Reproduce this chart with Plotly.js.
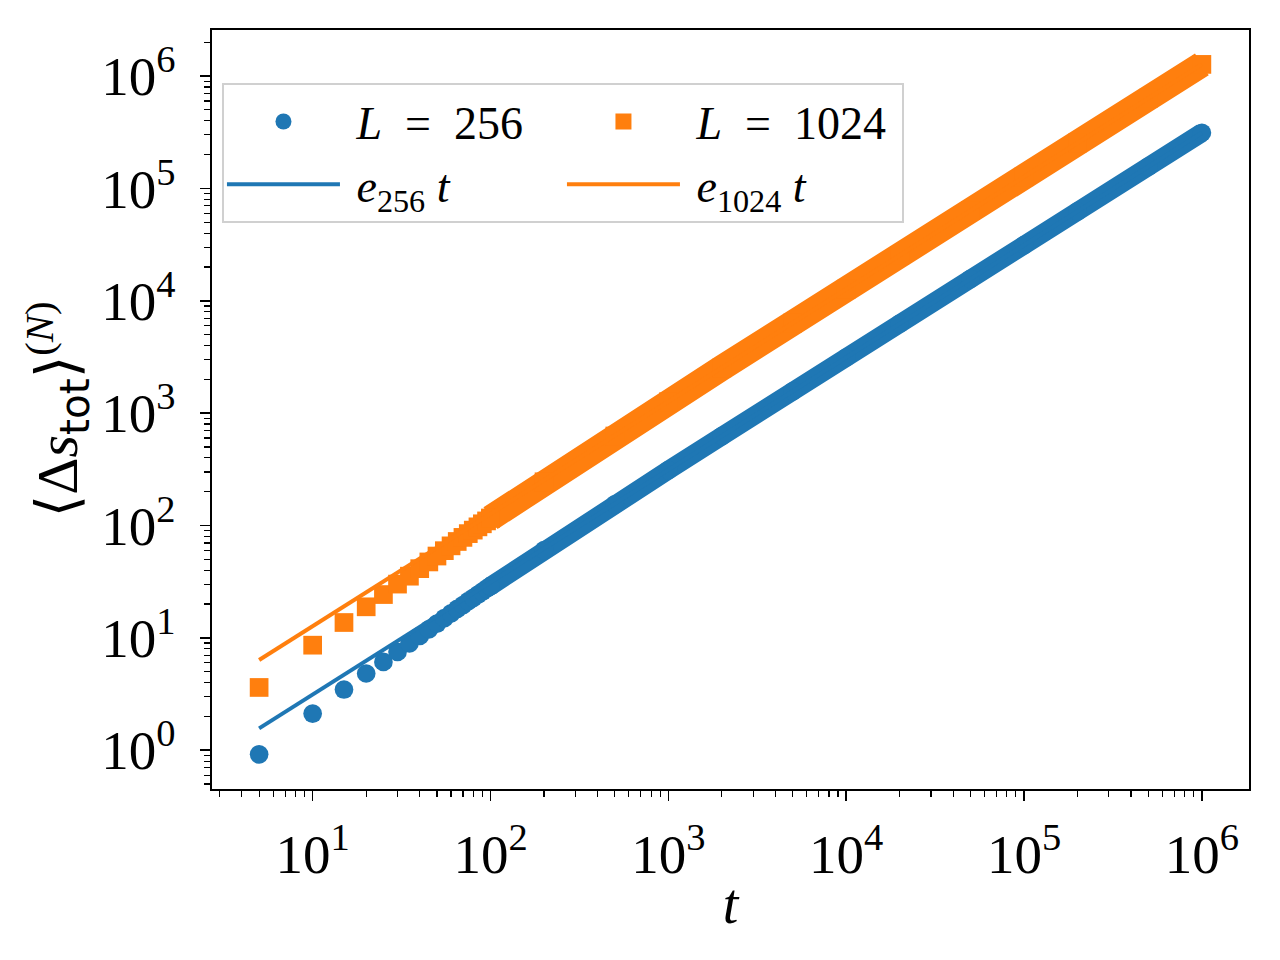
<!DOCTYPE html>
<html>
<head>
<meta charset="utf-8">
<script src="https://cdn.plot.ly/plotly-3.0.1.min.js"></script>
<style>
  body { margin: 0; background: white; }
  #graph { width: 1280px; height: 960px; }
</style>
</head>
<body>
<div id="graph"></div>
<script>
// early time steps, where single markers can still be told apart
let tEarly = [5, 10, 15, 20, 25, 30, 35, 40, 45, 50, 55, 60, 65, 70, 75, 80, 85, 90, 95, 100]
let s256Early = [0.92, 2.12, 3.47, 4.82, 6.11, 7.5, 8.91, 10.4, 11.9, 13.4, 15.0, 16.5, 18.1, 19.6, 21.2, 22.7, 24.3, 25.8, 27.4, 28.9]
let s1024Early = [3.62, 8.61, 13.7, 18.9, 24.3, 30.1, 35.4, 41.3, 47.4, 53.5, 59.7, 65.9, 72.1, 78.4, 84.7, 91.0, 97.3, 103.6, 109.9, 116.3]

// later time steps, markers merge into a solid band
let tLate = [100, 200, 500, 1000, 2000, 5000, 10000, 20000, 50000, 100000, 200000, 500000, 1000000]
let s256Late = [28.9, 60.5, 154, 311, 624, 1562, 3128, 6258, 15640, 31300, 62600, 156400, 313000]
let s1024Late = [116.3, 245, 626, 1262, 2530, 6340, 12690, 25380, 63450, 127000, 254000, 635000, 1270000]

// fitted lines e_L t
let tFit = [5, 1000000]
let fit256 = [1.565, 313000]
let fit1024 = [6.35, 1270000]

let xTicks = [10, 100, 1000, 10000, 100000, 1000000]
let xTickText = ['10<sup>1</sup>', '10<sup>2</sup>', '10<sup>3</sup>', '10<sup>4</sup>', '10<sup>5</sup>', '10<sup>6</sup>']
let yTicks = [1, 10, 100, 1000, 10000, 100000, 1000000]
let yTickText = ['10<sup>0</sup>', '10<sup>1</sup>', '10<sup>2</sup>', '10<sup>3</sup>', '10<sup>4</sup>', '10<sup>5</sup>', '10<sup>6</sup>']

const blue = '#1f77b4'
const orange = '#ff7f0e'
const serif = '"Liberation Serif", "DejaVu Serif", serif'
const sp = '\u00a0'

function minorTicks(lo, hi) {
    let out = []
    for (let k = lo; k <= hi; k++) {
        for (let m = 2; m <= 9; m++) out.push(m * Math.pow(10, k))
    }
    return out
}

main();

function main() {
    let traces = [
        {
            x: tEarly, y: s256Early, type: 'scatter', mode: 'markers',
            name: sp + '<i>L</i>' + sp + sp + '=' + sp + sp + '256', legendgroup: 'a',
            marker: {color: blue, size: 18.7, symbol: 'circle'}
        },
        {
            x: tEarly, y: s1024Early, type: 'scatter', mode: 'markers',
            name: sp + '<i>L</i>' + sp + sp + '=' + sp + sp + '1024', legendgroup: 'b',
            marker: {color: orange, size: 18.7, symbol: 'square'}
        },
        {
            x: tLate, y: s256Late, type: 'scatter', mode: 'lines+markers',
            showlegend: false, legendgroup: 'a', hoverinfo: 'skip',
            line: {color: blue, width: 18.7},
            marker: {color: blue, size: 18.7, symbol: 'circle'}
        },
        {
            x: tLate, y: s1024Late, type: 'scatter', mode: 'lines+markers',
            showlegend: false, legendgroup: 'b', hoverinfo: 'skip',
            line: {color: orange, width: 25.8},
            marker: {color: orange, size: 18.7, symbol: 'square'}
        },
        {
            x: tFit, y: fit256, type: 'scatter', mode: 'lines',
            name: sp + '<i>e</i><sub>256</sub> <i>t</i>', legendgroup: 'a',
            line: {color: blue, width: 4}
        },
        {
            x: tFit, y: fit1024, type: 'scatter', mode: 'lines',
            name: sp + '<i>e</i><sub>1024</sub> <i>t</i>', legendgroup: 'b',
            line: {color: orange, width: 4}
        }
    ]

    let axisCommon = {
        type: 'log',
        showgrid: false,
        zeroline: false,
        showline: true,
        linecolor: 'black',
        linewidth: 1.6,
        mirror: true,
        ticks: 'outside',
        ticklen: 10,
        tickwidth: 1.6,
        tickcolor: 'black',
        tickfont: {family: serif, size: 55, color: 'black'},
        tickmode: 'array'
    }

    let layout = {
        width: 1280,
        height: 960,
        margin: {l: 212, r: 31, t: 29.5, b: 171, pad: 0},
        paper_bgcolor: 'white',
        plot_bgcolor: 'white',
        font: {family: serif, color: 'black'},
        xaxis: Object.assign({}, axisCommon, {
            range: [0.434, 6.265],
            tickvals: xTicks,
            ticktext: xTickText,
            ticklabelstandoff: 6,
            minor: {tickvals: minorTicks(0, 6), ticks: 'outside', ticklen: 6, tickwidth: 1.2, tickcolor: 'black'},
            title: {text: '<i>t</i>', font: {family: serif, size: 56}, standoff: 0}
        }),
        yaxis: Object.assign({}, axisCommon, {
            range: [-0.345, 6.41],
            tickvals: yTicks,
            ticktext: yTickText,
            ticklabelstandoff: 14,
            minor: {tickvals: minorTicks(-1, 6), ticks: 'outside', ticklen: 6, tickwidth: 1.2, tickcolor: 'black'},
            title: {
                text: '⟨Δ<i>s</i><sub><span style="font-family:DejaVu Sans">tot</span></sub>⟩<sup>(<i>N</i>)</sup>',
                font: {family: serif, size: 58}
            }
        }),
        showlegend: true,
        legend: {
            orientation: 'h',
            traceorder: 'grouped',
            x: 0.0096,
            y: 0.93,
            xanchor: 'left',
            yanchor: 'top',
            bgcolor: 'rgba(255,255,255,0.8)',
            bordercolor: '#d0d0d0',
            borderwidth: 2,
            itemwidth: 113,
            entrywidth: 212,
            font: {family: serif, size: 46, color: 'black'}
        }
    }

    Plotly.newPlot('graph', traces, layout, {displayModeBar: false, staticPlot: true})
}
</script>
</body>
</html>
